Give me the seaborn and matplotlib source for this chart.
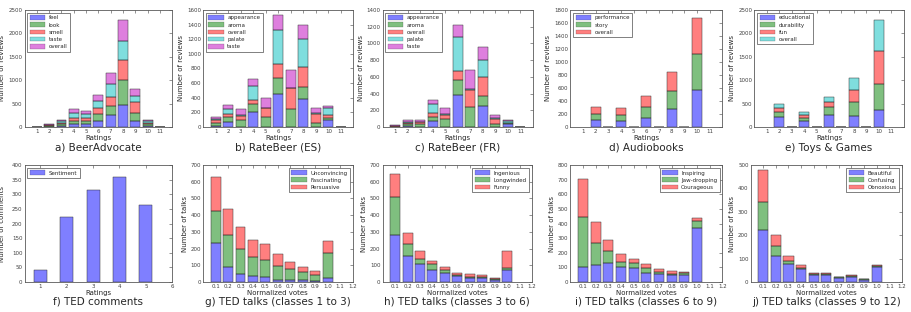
import numpy as np
import pandas as pd
import matplotlib
matplotlib.use("Agg")
import matplotlib.pyplot as plt
import seaborn as sns
from matplotlib.patches import Patch

sns.set_style("white")
plt.rcParams["font.family"] = ["DejaVu Sans"]

# ---------------- data ----------------
ratings11 = [1, 2, 3, 4, 5, 6, 7, 8, 9, 10, 11]
ratings_even = [2, 4, 6, 8, 10]
ratings5 = [1, 2, 3, 4, 5]
votes = [0.1, 0.2, 0.3, 0.4, 0.5, 0.6, 0.7, 0.8, 0.9, 1.0]

# a) BeerAdvocate
ba_feel = [0, 10, 30, 70, 70, 130, 250, 480, 120, 25, 0]
ba_look = [0, 15, 35, 60, 60, 140, 195, 520, 175, 30, 0]
ba_smell = [0, 15, 30, 70, 60, 140, 195, 430, 235, 40, 0]
ba_taste = [0, 10, 30, 100, 80, 140, 270, 410, 140, 25, 0]
ba_overall = [0, 10, 25, 80, 70, 140, 240, 440, 145, 30, 0]

# b) RateBeer (ES)
es_appearance = [10, 65, 5, 205, 0, 455, 0, 385, 5, 90, 0]
es_aroma = [45, 75, 95, 115, 140, 215, 245, 155, 50, 30, 0]
es_overall = [40, 40, 50, 55, 120, 190, 285, 280, 125, 50, 0]
es_palate = [10, 60, 15, 185, 5, 460, 5, 380, 5, 90, 0]
es_taste = [35, 60, 75, 100, 135, 215, 250, 200, 70, 30, 0]

# c) RateBeer (FR)
fr_appearance = [0, 10, 5, 75, 0, 385, 0, 255, 5, 35, 0]
fr_aroma = [5, 25, 30, 45, 90, 175, 240, 115, 25, 10, 0]
fr_overall = [10, 15, 25, 45, 55, 115, 205, 225, 70, 5, 0]
fr_palate = [0, 10, 5, 105, 5, 400, 5, 210, 5, 25, 0]
fr_taste = [10, 20, 20, 50, 75, 145, 235, 155, 35, 5, 0]

# d) Audiobooks
ab_performance = [100, 85, 145, 280, 575]
ab_story = [100, 95, 160, 275, 555]
ab_overall = [105, 110, 175, 285, 540]

# e) Toys & Games
tg_educational = [220, 130, 250, 240, 370]
tg_durability = [100, 60, 170, 290, 555]
tg_fun = [90, 70, 110, 270, 705]
tg_overall = [90, 70, 120, 255, 660]

# f) TED comments
ted_sentiment = [40, 223, 315, 360, 265]

# g) TED talks 1-3
g_unconvincing = [235, 90, 50, 35, 30, 15, 10, 10, 5, 25]
g_fascinating = [190, 190, 145, 115, 100, 80, 70, 50, 40, 150]
g_persuasive = [205, 155, 135, 100, 95, 70, 40, 30, 20, 70]

# h) TED talks 3-6
h_ingenious = [280, 155, 108, 75, 55, 35, 25, 22, 12, 75]
h_longwinded = [230, 70, 27, 30, 15, 7, 8, 8, 5, 10]
h_funny = [135, 70, 50, 20, 18, 13, 15, 12, 8, 100]

# i) TED talks 6-9
i_inspiring = [100, 115, 130, 100, 95, 65, 52, 45, 47, 370]
i_jawdropping = [345, 155, 82, 40, 33, 30, 18, 13, 15, 50]
i_courageous = [260, 140, 78, 55, 32, 30, 18, 17, 8, 20]

# j) TED talks 9-12
j_beautiful = [222, 112, 78, 55, 28, 28, 18, 22, 10, 65]
j_confusing = [120, 43, 12, 7, 5, 5, 2, 3, 3, 3]
j_obnoxious = [138, 48, 23, 11, 5, 5, 2, 3, 2, 4]

# ---------------- style ----------------
COL = {"b": (0, 0, 1), "g": (0, 0.5, 0), "r": (1, 0, 0),
       "c": (0, 0.75, 0.75), "m": (0.75, 0, 0.75)}
TICK_FS = 4
LAB_FS = 5
LEG_FS = 4
CAP_FS = 7.5

fig = plt.figure(figsize=(9.11, 3.12), dpi=100)

top_b, bot_b, h = 0.593, 0.096, 0.375
boxes = {
    "a": (0.027, top_b, 0.162, h), "b": (0.223, top_b, 0.165, h),
    "c": (0.420, top_b, 0.165, h), "d": (0.626, top_b, 0.167, h),
    "e": (0.828, top_b, 0.164, h),
    "f": (0.027, bot_b, 0.162, h), "g": (0.223, bot_b, 0.164, h),
    "h": (0.420, bot_b, 0.164, h), "i": (0.626, bot_b, 0.167, h),
    "j": (0.824, bot_b, 0.166, h),
}


def style_axes(ax, xlabel, ylabel, xticks, xticklabels, xlim, ymax, ystep, caption, cap_y,
               ylabel_x=None):
    ax.set_xlim(*xlim)
    ax.set_ylim(0, ymax)
    ax.set_xticks(xticks)
    ax.set_xticklabels(xticklabels)
    ax.set_yticks(np.arange(0, ymax + ystep / 2, ystep))
    ax.set_xlabel(xlabel, fontsize=LAB_FS, labelpad=0.5)
    ax.set_ylabel(ylabel, fontsize=LAB_FS, labelpad=2)
    if ylabel_x is not None:
        ax.yaxis.set_label_coords(ylabel_x, 0.5)
    ax.tick_params(labelsize=TICK_FS, direction="in", length=2, width=0.4,
                   top=True, right=True, pad=1.5, colors="0.25")
    for s in ax.spines.values():
        s.set_linewidth(0.6)
        s.set_color("0.35")
    pos = ax.get_position()
    fig.text(pos.x0 + pos.width / 2, cap_y, caption, ha="center", va="center",
             fontsize=CAP_FS)


def stacked(ax, x, series, loc, discrete=True, binwidth=None, binrange=None, shrink=0.8):
    names = [s[0] for s in series]
    rows = []
    for name, vals, _ in series:
        for xv, v in zip(x, vals):
            rows.append({"x": xv, "n": v, "k": name})
    df = pd.DataFrame(rows)
    pal = {name: COL[c] for name, _, c in series}
    kw = dict(discrete=True) if discrete else dict(binwidth=binwidth, binrange=binrange)
    sns.histplot(data=df, x="x", weights="n", hue="k", hue_order=names[::-1],
                 palette=pal, multiple="stack", shrink=shrink, alpha=0.5,
                 edgecolor="0.2", linewidth=0.35, legend=False, ax=ax, **kw)
    handles = [Patch(facecolor=COL[c], alpha=0.5, edgecolor="0.2", linewidth=0.3)
               for _, _, c in series]
    ax.legend(handles, names, loc=loc, fontsize=LEG_FS, frameon=True, fancybox=False,
              edgecolor="0.3", handlelength=2.8, handleheight=0.9, borderpad=0.45,
              labelspacing=0.35, handletextpad=0.6, framealpha=1)
    ax.get_legend().get_frame().set_linewidth(0.5)


cap_top, cap_bot = 1 - 148 / 312, 1 - 302 / 312
int_ticks = list(range(1, 12))
vote_ticks = [0.1, 0.2, 0.3, 0.4, 0.5, 0.6, 0.7, 0.8, 0.9, 1.0, 1.1, 1.2]
vote_labels = ["0.1", "0.2", "0.3", "0.4", "0.5", "0.6", "0.7", "0.8", "0.9", "1.0", "1.1", "1.2"]

# a
ax = fig.add_axes(boxes["a"])
stacked(ax, ratings11, [("feel", ba_feel, "b"), ("look", ba_look, "g"),
                        ("smell", ba_smell, "r"), ("taste", ba_taste, "c"),
                        ("overall", ba_overall, "m")], "upper left")
style_axes(ax, "Ratings", "Number of reviews", int_ticks, [str(t) for t in int_ticks],
           (0, 12), 2500, 500, "a) BeerAdvocate", cap_top, ylabel_x=-0.135)

# b
ax = fig.add_axes(boxes["b"])
stacked(ax, ratings11, [("appearance", es_appearance, "b"), ("aroma", es_aroma, "g"),
                        ("overall", es_overall, "r"), ("palate", es_palate, "c"),
                        ("taste", es_taste, "m")], "upper left")
style_axes(ax, "Ratings", "Number of reviews", int_ticks, [str(t) for t in int_ticks],
           (0, 12), 1600, 200, "b) RateBeer (ES)", cap_top)

# c
ax = fig.add_axes(boxes["c"])
stacked(ax, ratings11, [("appearance", fr_appearance, "b"), ("aroma", fr_aroma, "g"),
                        ("overall", fr_overall, "r"), ("palate", fr_palate, "c"),
                        ("taste", fr_taste, "m")], "upper left")
style_axes(ax, "Ratings", "Number of reviews", int_ticks, [str(t) for t in int_ticks],
           (0, 12), 1400, 200, "c) RateBeer (FR)", cap_top)

# d
ax = fig.add_axes(boxes["d"])
stacked(ax, ratings_even, [("performance", ab_performance, "b"), ("story", ab_story, "g"),
                           ("overall", ab_overall, "r")], "upper left")
style_axes(ax, "Ratings", "Number of reviews", int_ticks, [str(t) for t in int_ticks],
           (0, 12), 1800, 200, "d) Audiobooks", cap_top)

# e
ax = fig.add_axes(boxes["e"])
stacked(ax, ratings_even, [("educational", tg_educational, "b"), ("durability", tg_durability, "g"),
                           ("fun", tg_fun, "r"), ("overall", tg_overall, "c")], "upper left")
style_axes(ax, "Ratings", "Number of reviews", int_ticks, [str(t) for t in int_ticks],
           (0, 12), 2500, 500, "e) Toys & Games", cap_top)

# f
ax = fig.add_axes(boxes["f"])
stacked(ax, ratings5, [("Sentiment", ted_sentiment, "b")], "upper left", shrink=0.5)
style_axes(ax, "Ratings", "Number of comments", [1, 2, 3, 4, 5, 6], ["1", "2", "3", "4", "5", "6"],
           (0.4, 6), 400, 50, "f) TED comments", cap_bot, ylabel_x=-0.135)

# g
ax = fig.add_axes(boxes["g"])
stacked(ax, votes, [("Unconvincing", g_unconvincing, "b"), ("Fascinating", g_fascinating, "g"),
                    ("Persuasive", g_persuasive, "r")], "upper right",
        discrete=False, binwidth=0.1, binrange=(0.05, 1.05))
style_axes(ax, "Normalized votes", "Number of talks", vote_ticks, vote_labels,
           (0, 1.2), 700, 100, "g) TED talks (classes 1 to 3)", cap_bot)

# h
ax = fig.add_axes(boxes["h"])
stacked(ax, votes, [("Ingenious", h_ingenious, "b"), ("Longwinded", h_longwinded, "g"),
                    ("Funny", h_funny, "r")], "upper right",
        discrete=False, binwidth=0.1, binrange=(0.05, 1.05))
style_axes(ax, "Normalized votes", "Number of talks", vote_ticks, vote_labels,
           (0, 1.2), 700, 100, "h) TED talks (classes 3 to 6)", cap_bot)

# i
ax = fig.add_axes(boxes["i"])
stacked(ax, votes, [("Inspiring", i_inspiring, "b"), ("Jaw-dropping", i_jawdropping, "g"),
                    ("Courageous", i_courageous, "r")], "upper right",
        discrete=False, binwidth=0.1, binrange=(0.05, 1.05))
style_axes(ax, "Normalized votes", "Number of talks", vote_ticks, vote_labels,
           (0, 1.2), 800, 100, "i) TED talks (classes 6 to 9)", cap_bot)

# j
ax = fig.add_axes(boxes["j"])
stacked(ax, votes, [("Beautiful", j_beautiful, "b"), ("Confusing", j_confusing, "g"),
                    ("Obnoxious", j_obnoxious, "r")], "upper right",
        discrete=False, binwidth=0.1, binrange=(0.05, 1.05))
style_axes(ax, "Normalized votes", "Number of talks", vote_ticks, vote_labels,
           (0, 1.2), 500, 100, "j) TED talks (classes 9 to 12)", cap_bot)

fig.savefig("out.png", dpi=100)
